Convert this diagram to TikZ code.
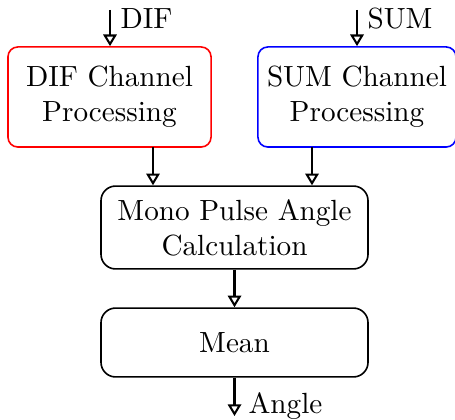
\documentclass[tikz,border=0pt]{standalone}
\usetikzlibrary{arrows.meta}
\begin{document}
\begin{tikzpicture}[
  x=0.3427pt, y=-0.3427pt,
  box/.style={draw, line width=0.55pt, align=center, inner sep=0pt},
  chan/.style={box, rounded corners=3.4pt, minimum height=34.3pt},
  calc box/.style={box, rounded corners=5pt, minimum width=91.5pt},
  arr/.style={line width=0.7pt, -{Triangle[open, length=4pt, width=4.6pt]}},
  lbl/.style={anchor=base west, inner sep=0pt}
]
\useasboundingbox (0,0) rectangle (455,419);

% channel processing blocks
\node[chan, draw=red,  minimum width=69.6pt] (dif) at (109.5,97) {DIF Channel\\Processing};
\node[chan, draw=blue, minimum width=67.9pt] (sum) at (357,97)   {SUM Channel\\Processing};

% angle computation and averaging
\node[calc box, minimum height=28.4pt] (mono) at (234.5,227.5) {Mono Pulse Angle\\Calculation};
\node[calc box, minimum height=23.6pt] (mean) at (234.5,342.5) {Mean};

% inputs
\coordinate (difin) at (110,10);
\coordinate (sumin) at (357,10);
\draw[arr] (difin) -- (dif.north -| difin);
\draw[arr] (sumin) -- (sum.north -| sumin);
\node[lbl] (diflbl) at (120,29) {DIF};
\node[lbl] (sumlbl) at (367,29) {SUM};

% channels into the angle calculation
\coordinate (d1) at (153,147);
\coordinate (s1) at (312,147);
\draw[arr] (d1) -- (d1 |- mono.north);
\draw[arr] (s1) -- (s1 |- mono.north);

% angle calculation to mean, and output
\draw[arr] (mono.south) -- (mean.north);
\coordinate (out) at (234.5,416);
\draw[arr] (mean.south) -- (out);
\node[lbl] (anglelbl) at (248,413) {Angle};
\end{tikzpicture}
\end{document}
